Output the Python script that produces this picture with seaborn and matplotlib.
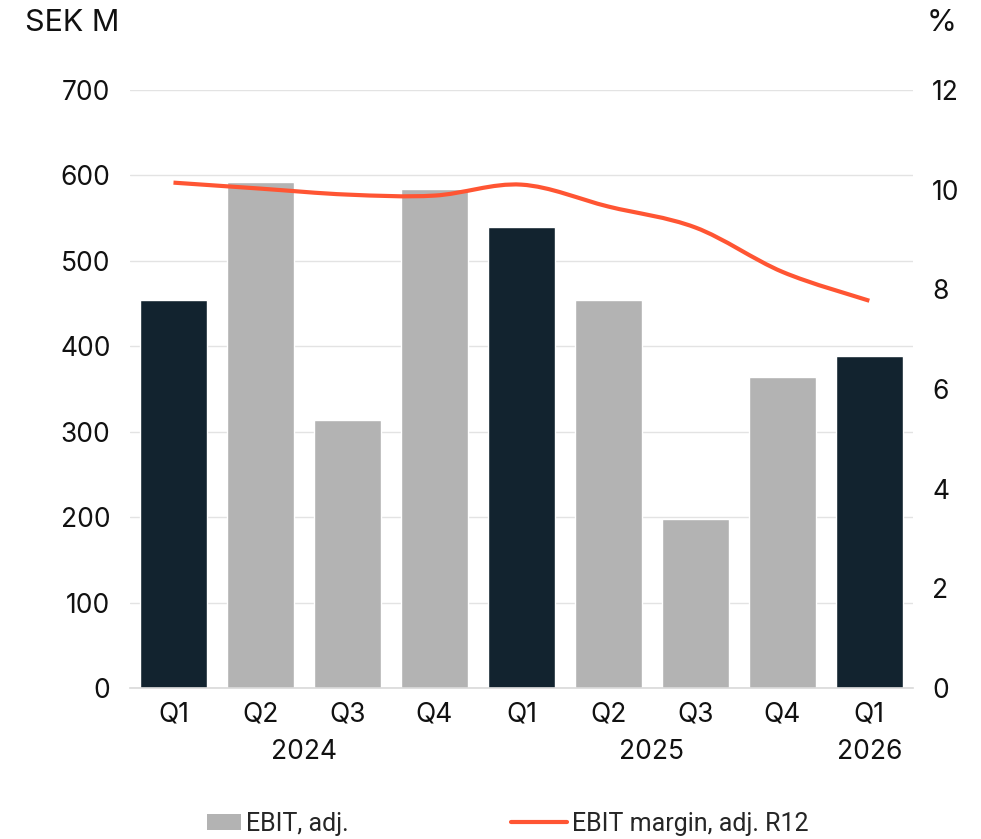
import numpy as np
import pandas as pd
import matplotlib
matplotlib.use("Agg")
import matplotlib.pyplot as plt
from matplotlib.path import Path
from matplotlib.patches import PathPatch, Patch, Rectangle
from matplotlib.lines import Line2D
from matplotlib.legend_handler import HandlerPatch
import seaborn as sns

# Quarterly data
quarters = ["Q1", "Q2", "Q3", "Q4", "Q1", "Q2", "Q3", "Q4", "Q1"]
years = ["2024", "2025", "2026"]
year_centers = [1.5, 5.5, 8.0]
ebit_adj = [454, 592, 314, 584, 540, 454, 198, 364, 388]
margin_r12 = [10.14, 10.02, 9.90, 9.88, 10.10, 9.66, 9.24, 8.35, 7.77]
highlight = ["Q1", "other", "other", "other", "Q1", "other", "other", "other", "Q1"]

DARK = "#12232f"
GRAY = "#b3b3b3"
ORANGE = "#ff5533"
GRID = "#e3e3e3"

sns.set_theme(style="white")
plt.rcParams["font.family"] = ["Inter", "DejaVu Sans"]

df = pd.DataFrame({
    "pos": list(range(len(quarters))),
    "ebit": ebit_adj,
    "group": highlight,
})

fig = plt.figure(figsize=(9.81, 8.39), dpi=100)
ax = fig.add_axes([0.1325, 0.18, 0.798, 0.7128])

sns.barplot(data=df, x="pos", y="ebit", hue="group",
            palette={"Q1": DARK, "other": GRAY}, dodge=False,
            width=0.77, saturation=1, legend=False, ax=ax, zorder=2)

ax.set_xlim(-0.5, 8.5)
ax.set_ylim(0, 700)
ax.set_yticks(range(0, 701, 100))
ax.yaxis.grid(True, color=GRID, linewidth=1, zorder=0)
ax.set_axisbelow(True)
for side in ["top", "right", "left"]:
    ax.spines[side].set_visible(False)
ax.spines["bottom"].set_color("#d9d9d9")
ax.spines["bottom"].set_linewidth(1.2)
ax.set_xlabel("")
ax.set_ylabel("")
ax.set_xticks(range(len(quarters)))
ax.set_xticklabels(quarters, fontsize=19, color="#111111")
ax.tick_params(axis="x", length=0, pad=10)
ax.tick_params(axis="y", length=0, pad=14, labelsize=19, labelcolor="#111111")

for yr, xc in zip(years, year_centers):
    ax.text(xc, -0.085, yr, transform=ax.get_xaxis_transform(),
            ha="center", va="top", fontsize=19, color="#111111")

# Margin on the right axis
ax2 = ax.twinx()
ax2.set_ylim(0, 12)
ax2.set_yticks(range(0, 13, 2))
for side in ["top", "right", "left", "bottom"]:
    ax2.spines[side].set_visible(False)
ax2.tick_params(axis="y", length=0, pad=14, labelsize=19, labelcolor="#111111")
ax2.grid(False)

# Smooth curve through the margin points (Catmull-Rom as cubic Beziers)
xs = np.arange(len(margin_r12), dtype=float)
ys = np.array(margin_r12, dtype=float)
verts = [(xs[0], ys[0])]
codes = [Path.MOVETO]
for i in range(len(xs) - 1):
    p0 = np.array([xs[max(i - 1, 0)], ys[max(i - 1, 0)]])
    p1 = np.array([xs[i], ys[i]])
    p2 = np.array([xs[i + 1], ys[i + 1]])
    p3 = np.array([xs[min(i + 2, len(xs) - 1)], ys[min(i + 2, len(xs) - 1)]])
    c1 = p1 + (p2 - p0) / 6.0
    c2 = p2 - (p3 - p1) / 6.0
    verts += [tuple(c1), tuple(c2), tuple(p2)]
    codes += [Path.CURVE4] * 3
ax2.add_patch(PathPatch(Path(verts, codes), facecolor="none",
                        edgecolor=ORANGE, linewidth=3, zorder=3,
                        capstyle="butt"))
ax2.set_xlim(-0.5, 8.5)

fig.text(0.025, 0.973, "SEK M", ha="left", va="center", fontsize=22, color="#111111")
fig.text(0.975, 0.973, "%", ha="right", va="center", fontsize=22, color="#111111")


def short_box(legend, orig_handle, xdescent, ydescent, width, height, fontsize):
    w = width * 0.6
    return Rectangle((width - w - xdescent, -ydescent), w, height)


handles = [Patch(facecolor=GRAY, edgecolor="none"),
           Line2D([0], [0], color=ORANGE, linewidth=3)]
fig.legend(handles, ["EBIT, adj.", "EBIT margin, adj. R12"],
           loc="center", bbox_to_anchor=(0.506, 0.018), ncol=2, frameon=False,
           handlelength=2.25, handleheight=0.65, handletextpad=0.2,
           columnspacing=6.5, prop={"family": ["Roboto", "DejaVu Sans"], "size": 18},
           handler_map={Patch: HandlerPatch(patch_func=short_box)})

fig.savefig("out.png", dpi=100, facecolor="white")
